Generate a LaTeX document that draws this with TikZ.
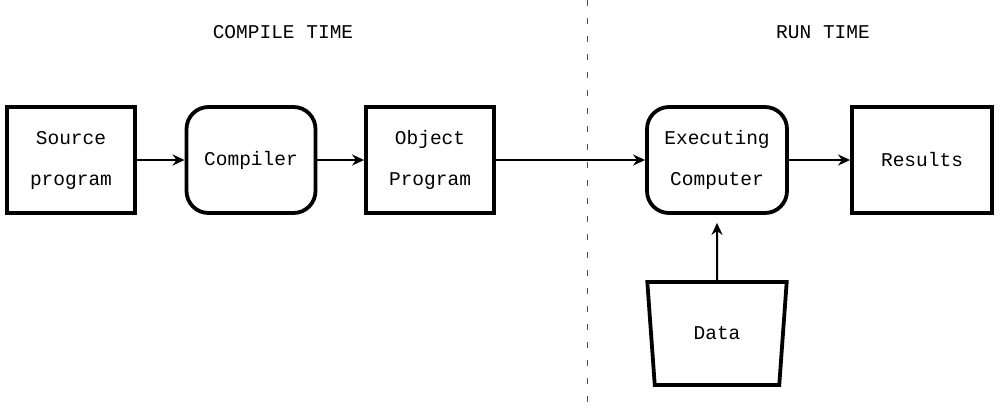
\documentclass[tikz,border=0pt]{standalone}
\usepackage{fontspec}
\setmonofont{Liberation Mono}
\usetikzlibrary{arrows.meta,shapes.geometric}
\begin{document}
\begin{tikzpicture}[x=1pt,y=-1pt,
  txt/.style={font=\ttfamily\fontsize{19.5}{41}\selectfont},
  box/.style={txt, draw, line width=3.8pt, minimum width=128pt, minimum height=106pt, inner sep=0pt, align=center},
  rbox/.style={box, rounded corners=22pt},
  conn/.style={line width=2pt, -{Stealth[length=12pt,width=11pt]}},
  divider/.style={line width=1pt, black!70, dash pattern=on 6pt off 12pt}
]
\useasboundingbox (0,0) rectangle (1000,408);
\coordinate (dtop) at (587,0);
\coordinate (dbot) at (587,408);
\draw[divider] (dtop) -- (dbot);
\node[txt] (ct) at (283,32) {COMPILE TIME};
\node[txt] (rt) at (823,32) {RUN TIME};
\node[box] (src) at (71,160) {Source\\program};
\node[rbox, minimum width=129pt] (comp) at (251,160) {Compiler};
\node[box] (obj) at (430,160) {Object\\Program};
\node[rbox, minimum width=140pt] (exec) at (717,160) {Executing\\Computer};
\node[box, minimum width=140pt] (res) at (922,160) {Results};
\node[txt, draw, line width=3.8pt, trapezium, shape border rotate=180,
      trapezium left angle=78, trapezium right angle=78, trapezium stretches=true,
      minimum width=140pt, minimum height=103pt, inner sep=0pt] (data) at (717,333.5) {Data};
\draw[conn] (src) -- (comp);
\draw[conn] (comp) -- (obj);
\draw[conn] (obj) -- (exec);
\draw[conn] (exec) -- (res);
\draw[conn, shorten >=8pt] (data.north) -- (exec.south);
\end{tikzpicture}
\end{document}
